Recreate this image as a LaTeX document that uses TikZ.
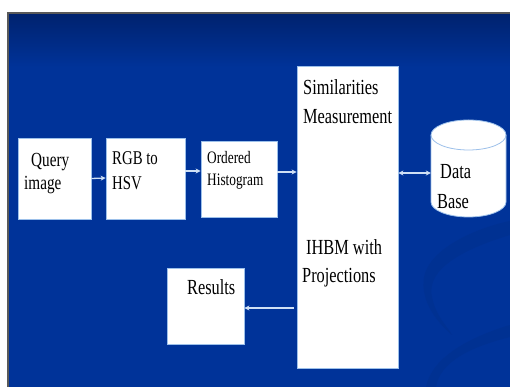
\documentclass[tikz,border=0pt]{standalone}
\usepackage{fontspec}
\newfontfamily\tnr[FakeStretch=0.76]{Liberation Serif}
\usetikzlibrary{arrows.meta}
\definecolor{bgblue}{HTML}{003399}
\definecolor{bgtop}{HTML}{00226E}
\definecolor{swoosh}{HTML}{003192}
\definecolor{boxline}{HTML}{9CC0EA}
\definecolor{arrowc}{HTML}{CFE0F5}
\tikzset{
  blockbox/.style={draw=boxline, line width=0.8pt, fill=white, inner sep=0pt},
  txt/.style={anchor=west, inner sep=0pt, font=\tnr\fontsize{21.5}{24}\selectfont, text=black},
  flow/.style={draw=arrowc, line width=1.3pt, -{Stealth[length=5pt,width=5pt]}},
  bothflow/.style={draw=arrowc, line width=1.3pt, {Stealth[length=5pt,width=5pt]}-{Stealth[length=5pt,width=5pt]}}
}
\begin{document}
\begin{tikzpicture}[x=1pt,y=1pt]
\useasboundingbox (0,0) rectangle (510,387);
% background
\fill[white] (0,0) rectangle (510,387);
\fill[bgblue] (8,0) rectangle (510,374);
\shade[top color=bgtop, bottom color=bgblue] (8,320) rectangle (510,374);
% swooshes
\fill[swoosh] (510,152) .. controls (470,140) and (425,120) .. (432,90)
  .. controls (436,70) and (448,60) .. (452,52)
  .. controls (438,64) and (420,85) .. (424,110)
  .. controls (430,140) and (480,160) .. (510,166) -- cycle;
\fill[swoosh] (510,50) .. controls (470,40) and (440,25) .. (436,0)
  -- (426,0) .. controls (432,30) and (470,50) .. (510,62) -- cycle;
\draw[gray!70!black, line width=1.2pt] (8,0) -- (8,374) -- (510,374);
% boxes
\node[blockbox, minimum width=73pt, minimum height=81pt] (query) at (54.5,208.5) {};
\node[blockbox, minimum width=79pt, minimum height=81pt] (rgb) at (145.5,208.5) {};
\node[blockbox, minimum width=76pt, minimum height=76pt] (ord) at (239,208) {};
\node[blockbox, minimum width=101pt, minimum height=302pt] (sim) at (347.5,170) {};
\node[blockbox, minimum width=77pt, minimum height=76pt] (res) at (205.5,81) {};
% database cylinder
\node[inner sep=0pt, minimum width=75pt, minimum height=97pt] (db) at (468.5,218.5) {};
\draw[boxline, line width=0.8pt, fill=white] (431,252) -- (431,185) arc (180:360:37.5 and 15) -- (506,252) arc (0:180:37.5 and 15) -- cycle;
\draw[boxline, line width=0.8pt] (431,252) arc (180:360:37.5 and 15);
% texts
\node[txt, font=\tnr\fontsize{20}{22}\selectfont] (t1) at (31,225) {Query};
\node[txt, font=\tnr\fontsize{20}{22}\selectfont] (t2) at (24,202) {image};
\node[txt, font=\tnr\fontsize{19.5}{22}\selectfont] (t3) at (112,229) {RGB to};
\node[txt, font=\tnr\fontsize{19.5}{22}\selectfont] (t4) at (112,204) {HSV};
\node[txt, font=\tnr\fontsize{17.5}{20}\selectfont] (t5) at (207,229) {Ordered};
\node[txt, font=\tnr\fontsize{17.5}{20}\selectfont] (t6) at (207,205) {Histogram};
\node[txt] (t7) at (303,300) {Similarities};
\node[txt] (t8) at (303,270) {Measurement};
\node[txt] (t9) at (306,140) {IHBM with};
\node[txt] (t10) at (302,109) {Projections};
\node[txt] (t11) at (440,215) {Data};
\node[txt] (t12) at (437,185) {Base};
\node[txt] (t13) at (187,100) {Results};
% connectors
\draw[flow] (query.east) -- ([yshift=0.5pt]rgb.west);
\draw[flow] ([yshift=7.5pt]rgb.east) -- ([yshift=8pt]ord.west);
\draw[flow] ([yshift=7pt]ord.east) -- (sim.west |- 0,215);
\draw[bothflow] (sim.east |- 0,214) -- (db.west |- 0,214);
\draw[flow] ([xshift=-3pt]sim.west |- 0,79) -- (res.east |- 0,79);
\end{tikzpicture}
\end{document}
